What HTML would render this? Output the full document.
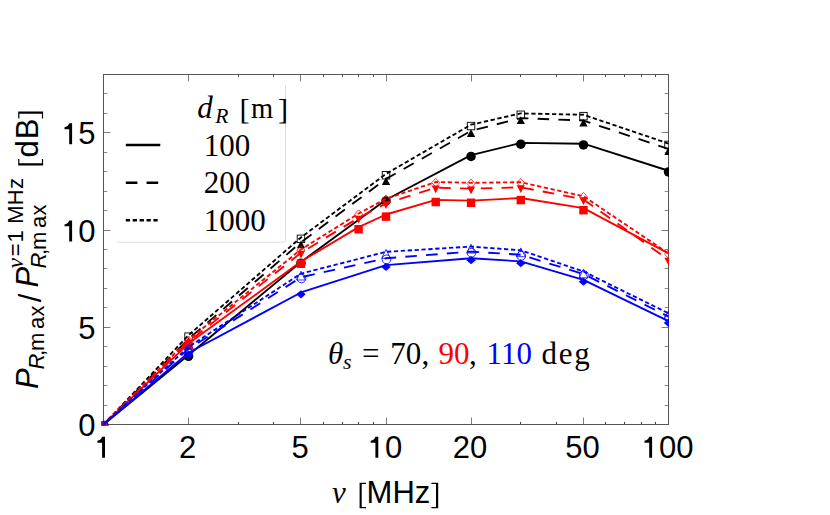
<!DOCTYPE html>
<html><head><meta charset="utf-8"><style>
html,body{margin:0;padding:0;background:#fff}
svg{display:block}
text{font-family:"Liberation Sans",sans-serif;fill:#000}
.tl{font-size:31px}
.se{font-family:"Liberation Serif",serif}
.mj{stroke:#7a7a7a;stroke-width:1;fill:none}
.mn{stroke:#888;stroke-width:1;fill:none}
.mx{stroke:#484848;stroke-width:1;fill:none}
</style></head><body>
<svg width="830" height="515" viewBox="0 0 830 515">
<defs><clipPath id="clip"><rect x="101.4" y="73" width="567.6" height="352.6"/></clipPath></defs>
<rect x="0" y="0" width="830" height="515" fill="#fff"/>
<path d="M103.50 424.5v-6.9M103.50 74.5v6.9" class="mj"/>
<path d="M188.50 424.5v-6.9M188.50 74.5v6.9" class="mj"/>
<path d="M300.50 424.5v-6.9M300.50 74.5v6.9" class="mj"/>
<path d="M386.50 424.5v-6.9M386.50 74.5v6.9" class="mj"/>
<path d="M471.50 424.5v-6.9M471.50 74.5v6.9" class="mj"/>
<path d="M583.50 424.5v-6.9M583.50 74.5v6.9" class="mj"/>
<path d="M668.50 424.5v-6.9M668.50 74.5v6.9" class="mj"/>
<path d="M238.50 424.5v-2.6M238.50 74.5v2.6" class="mx"/>
<path d="M273.50 424.5v-2.6M273.50 74.5v2.6" class="mx"/>
<path d="M323.50 424.5v-2.6M323.50 74.5v2.6" class="mx"/>
<path d="M342.50 424.5v-2.6M342.50 74.5v2.6" class="mx"/>
<path d="M358.50 424.5v-2.6M358.50 74.5v2.6" class="mx"/>
<path d="M373.50 424.5v-2.6M373.50 74.5v2.6" class="mx"/>
<path d="M520.50 424.5v-2.6M520.50 74.5v2.6" class="mx"/>
<path d="M556.50 424.5v-2.6M556.50 74.5v2.6" class="mx"/>
<path d="M605.50 424.5v-2.6M605.50 74.5v2.6" class="mx"/>
<path d="M624.50 424.5v-2.6M624.50 74.5v2.6" class="mx"/>
<path d="M641.50 424.5v-2.6M641.50 74.5v2.6" class="mx"/>
<path d="M655.50 424.5v-2.6M655.50 74.5v2.6" class="mx"/>
<path d="M103.5 424.50h6.9M668.5 424.50h-6.9" class="mj"/>
<path d="M103.5 405.50h3.8M668.5 405.50h-3.8" class="mn"/>
<path d="M103.5 385.50h3.8M668.5 385.50h-3.8" class="mn"/>
<path d="M103.5 366.50h3.8M668.5 366.50h-3.8" class="mn"/>
<path d="M103.5 346.50h3.8M668.5 346.50h-3.8" class="mn"/>
<path d="M103.5 327.50h6.9M668.5 327.50h-6.9" class="mj"/>
<path d="M103.5 307.50h3.8M668.5 307.50h-3.8" class="mn"/>
<path d="M103.5 288.50h3.8M668.5 288.50h-3.8" class="mn"/>
<path d="M103.5 268.50h3.8M668.5 268.50h-3.8" class="mn"/>
<path d="M103.5 249.50h3.8M668.5 249.50h-3.8" class="mn"/>
<path d="M103.5 230.50h6.9M668.5 230.50h-6.9" class="mj"/>
<path d="M103.5 210.50h3.8M668.5 210.50h-3.8" class="mn"/>
<path d="M103.5 191.50h3.8M668.5 191.50h-3.8" class="mn"/>
<path d="M103.5 171.50h3.8M668.5 171.50h-3.8" class="mn"/>
<path d="M103.5 152.50h3.8M668.5 152.50h-3.8" class="mn"/>
<path d="M103.5 132.50h6.9M668.5 132.50h-6.9" class="mj"/>
<path d="M103.5 113.50h3.8M668.5 113.50h-3.8" class="mn"/>
<path d="M103.5 93.50h3.8M668.5 93.50h-3.8" class="mn"/>
<path d="M103.5 74.50h3.8M668.5 74.50h-3.8" class="mn"/>
<rect x="103.5" y="74.5" width="565.0" height="350.0" fill="none" stroke="#555" stroke-width="1"/>
<g clip-path="url(#clip)">
<polyline points="103.50,424.50 188.54,355.08 300.96,261.94 386.00,199.72 471.04,155.19 520.79,142.94 583.46,143.72 668.50,170.75" fill="none" stroke="#000" stroke-width="1.85" stroke-linejoin="round"/>
<circle cx="103.50" cy="425.70" r="4.75" fill="#000"/>
<circle cx="188.54" cy="356.28" r="4.75" fill="#000"/>
<circle cx="300.96" cy="263.14" r="4.75" fill="#000"/>
<circle cx="386.00" cy="200.92" r="4.75" fill="#000"/>
<circle cx="471.04" cy="156.39" r="4.75" fill="#000"/>
<circle cx="520.79" cy="144.14" r="4.75" fill="#000"/>
<circle cx="583.46" cy="144.92" r="4.75" fill="#000"/>
<circle cx="668.50" cy="171.95" r="4.75" fill="#000"/>
<polyline points="103.50,424.50 188.54,338.94 300.96,242.31 386.00,178.92 471.04,130.89 520.79,118.06 583.46,120.58 668.50,148.97" fill="none" stroke="#000" stroke-width="1.85" stroke-dasharray="11.6 9.2" stroke-linejoin="round"/>
<path d="M99.35 430.50L107.65 430.50L103.50 422.60Z" fill="#000"/>
<path d="M184.39 344.94L192.69 344.94L188.54 337.04Z" fill="#000"/>
<path d="M296.81 248.31L305.11 248.31L300.96 240.41Z" fill="#000"/>
<path d="M381.85 184.92L390.15 184.92L386.00 177.02Z" fill="#000"/>
<path d="M466.89 136.89L475.19 136.89L471.04 128.99Z" fill="#000"/>
<path d="M516.64 124.06L524.94 124.06L520.79 116.16Z" fill="#000"/>
<path d="M579.31 126.58L587.61 126.58L583.46 118.68Z" fill="#000"/>
<path d="M664.35 154.97L672.65 154.97L668.50 147.07Z" fill="#000"/>
<polyline points="103.50,424.50 188.54,335.25 300.96,237.44 386.00,173.86 471.04,124.67 520.79,113.39 583.46,114.75 668.50,143.53" fill="none" stroke="#000" stroke-width="1.85" stroke-dasharray="4.3 2.6" stroke-linejoin="round"/>
<rect x="99.75" y="422.15" width="7.5" height="7.5" fill="none" stroke="#000" stroke-width="0.9"/>
<rect x="184.79" y="332.90" width="7.5" height="7.5" fill="none" stroke="#000" stroke-width="0.9"/>
<rect x="297.21" y="235.09" width="7.5" height="7.5" fill="none" stroke="#000" stroke-width="0.9"/>
<rect x="382.25" y="171.51" width="7.5" height="7.5" fill="none" stroke="#000" stroke-width="0.9"/>
<rect x="467.29" y="122.32" width="7.5" height="7.5" fill="none" stroke="#000" stroke-width="0.9"/>
<rect x="517.04" y="111.04" width="7.5" height="7.5" fill="none" stroke="#000" stroke-width="0.9"/>
<rect x="579.71" y="112.40" width="7.5" height="7.5" fill="none" stroke="#000" stroke-width="0.9"/>
<rect x="664.75" y="141.18" width="7.5" height="7.5" fill="none" stroke="#000" stroke-width="0.9"/>
<polyline points="103.50,424.50 188.54,343.61 300.96,261.56 358.62,227.14 386.00,214.50 435.75,199.92 471.04,200.69 520.79,197.97 583.46,208.08 668.50,253.39" fill="none" stroke="#f00" stroke-width="1.85" stroke-linejoin="round"/>
<rect x="99.30" y="422.35" width="8.4" height="8.5" fill="#f00"/>
<rect x="184.34" y="341.46" width="8.4" height="8.5" fill="#f00"/>
<rect x="296.76" y="259.41" width="8.4" height="8.5" fill="#f00"/>
<rect x="354.42" y="224.99" width="8.4" height="8.5" fill="#f00"/>
<rect x="381.80" y="212.35" width="8.4" height="8.5" fill="#f00"/>
<rect x="431.55" y="197.77" width="8.4" height="8.5" fill="#f00"/>
<rect x="466.84" y="198.54" width="8.4" height="8.5" fill="#f00"/>
<rect x="516.59" y="195.82" width="8.4" height="8.5" fill="#f00"/>
<rect x="579.26" y="205.93" width="8.4" height="8.5" fill="#f00"/>
<polyline points="103.50,424.50 188.54,341.86 300.96,252.81 358.62,217.81 386.00,203.42 435.75,187.67 471.04,188.64 520.79,187.28 583.46,199.33 668.50,259.81" fill="none" stroke="#f00" stroke-width="1.85" stroke-dasharray="11.6 9.2" stroke-linejoin="round"/>
<path d="M99.40 422.40L107.60 422.40L103.50 430.20Z" fill="#f00"/>
<path d="M184.44 339.76L192.64 339.76L188.54 347.56Z" fill="#f00"/>
<path d="M296.86 250.71L305.06 250.71L300.96 258.51Z" fill="#f00"/>
<path d="M354.52 215.71L362.72 215.71L358.62 223.51Z" fill="#f00"/>
<path d="M381.90 201.32L390.10 201.32L386.00 209.12Z" fill="#f00"/>
<path d="M431.65 185.57L439.85 185.57L435.75 193.37Z" fill="#f00"/>
<path d="M466.94 186.54L475.14 186.54L471.04 194.34Z" fill="#f00"/>
<path d="M516.69 185.18L524.89 185.18L520.79 192.98Z" fill="#f00"/>
<path d="M579.36 197.23L587.56 197.23L583.46 205.03Z" fill="#f00"/>
<path d="M664.40 257.71L672.60 257.71L668.50 265.51Z" fill="#f00"/>
<polyline points="103.50,424.50 188.54,339.72 300.96,249.50 358.62,213.53 386.00,198.75 435.75,182.03 471.04,182.81 520.79,182.22 583.46,196.22 668.50,253.39" fill="none" stroke="#f00" stroke-width="1.85" stroke-dasharray="4.3 2.6" stroke-linejoin="round"/>
<path d="M99.50 425.20L103.50 420.80L107.50 425.20L103.50 429.60Z" fill="none" stroke="#f00" stroke-width="0.8"/>
<path d="M184.54 340.42L188.54 336.02L192.54 340.42L188.54 344.82Z" fill="none" stroke="#f00" stroke-width="0.8"/>
<path d="M296.96 250.20L300.96 245.80L304.96 250.20L300.96 254.60Z" fill="none" stroke="#f00" stroke-width="0.8"/>
<path d="M354.62 214.23L358.62 209.83L362.62 214.23L358.62 218.63Z" fill="none" stroke="#f00" stroke-width="0.8"/>
<path d="M382.00 199.45L386.00 195.05L390.00 199.45L386.00 203.85Z" fill="none" stroke="#f00" stroke-width="0.8"/>
<path d="M431.75 182.73L435.75 178.33L439.75 182.73L435.75 187.13Z" fill="none" stroke="#f00" stroke-width="0.8"/>
<path d="M467.04 183.51L471.04 179.11L475.04 183.51L471.04 187.91Z" fill="none" stroke="#f00" stroke-width="0.8"/>
<path d="M516.79 182.92L520.79 178.52L524.79 182.92L520.79 187.32Z" fill="none" stroke="#f00" stroke-width="0.8"/>
<path d="M579.46 196.92L583.46 192.52L587.46 196.92L583.46 201.32Z" fill="none" stroke="#f00" stroke-width="0.8"/>
<path d="M664.50 254.09L668.50 249.69L672.50 254.09L668.50 258.49Z" fill="none" stroke="#f00" stroke-width="0.8"/>
<polyline points="103.50,424.50 188.54,352.75 300.96,292.47 386.00,265.06 471.04,258.25 520.79,261.36 583.46,279.83 668.50,321.06" fill="none" stroke="#00f" stroke-width="1.85" stroke-linejoin="round"/>
<path d="M183.84 354.65L188.54 350.55L193.24 354.65L188.54 358.75Z" fill="#00f"/>
<path d="M296.26 294.37L300.96 290.27L305.66 294.37L300.96 298.47Z" fill="#00f"/>
<path d="M381.30 266.96L386.00 262.86L390.70 266.96L386.00 271.06Z" fill="#00f"/>
<path d="M466.34 260.15L471.04 256.05L475.74 260.15L471.04 264.25Z" fill="#00f"/>
<path d="M516.09 263.26L520.79 259.16L525.49 263.26L520.79 267.36Z" fill="#00f"/>
<path d="M578.76 281.73L583.46 277.63L588.16 281.73L583.46 285.83Z" fill="#00f"/>
<path d="M663.80 322.96L668.50 318.86L673.20 322.96L668.50 327.06Z" fill="#00f"/>
<polyline points="103.50,424.50 188.54,348.86 300.96,277.31 386.00,258.25 471.04,251.64 520.79,254.75 583.46,274.00 668.50,316.58" fill="none" stroke="#00f" stroke-width="1.85" stroke-dasharray="11.6 9.2" stroke-linejoin="round"/>
<circle cx="104.00" cy="425.60" r="4.4" fill="none" stroke="#00f" stroke-width="0.85"/>
<circle cx="189.04" cy="349.96" r="4.4" fill="none" stroke="#00f" stroke-width="0.85"/>
<circle cx="301.46" cy="278.41" r="4.4" fill="none" stroke="#00f" stroke-width="0.85"/>
<circle cx="386.50" cy="259.35" r="4.4" fill="none" stroke="#00f" stroke-width="0.85"/>
<circle cx="471.54" cy="252.74" r="4.4" fill="none" stroke="#00f" stroke-width="0.85"/>
<circle cx="521.29" cy="255.85" r="4.4" fill="none" stroke="#00f" stroke-width="0.85"/>
<circle cx="583.96" cy="275.10" r="4.4" fill="none" stroke="#00f" stroke-width="0.85"/>
<circle cx="669.00" cy="317.68" r="4.4" fill="none" stroke="#00f" stroke-width="0.85"/>
<polyline points="103.50,424.50 188.54,346.92 300.96,273.61 386.00,251.83 471.04,246.58 520.79,250.28 583.46,271.47 668.50,313.28" fill="none" stroke="#00f" stroke-width="1.85" stroke-dasharray="4.3 2.6" stroke-linejoin="round"/>
<path d="M99.10 430.90L107.90 430.90L103.50 422.10Z" fill="none" stroke="#00f" stroke-width="0.8"/>
<path d="M184.14 353.32L192.94 353.32L188.54 344.52Z" fill="none" stroke="#00f" stroke-width="0.8"/>
<path d="M296.56 280.01L305.36 280.01L300.96 271.21Z" fill="none" stroke="#00f" stroke-width="0.8"/>
<path d="M381.60 258.23L390.40 258.23L386.00 249.43Z" fill="none" stroke="#00f" stroke-width="0.8"/>
<path d="M466.64 252.98L475.44 252.98L471.04 244.18Z" fill="none" stroke="#00f" stroke-width="0.8"/>
<path d="M516.39 256.68L525.19 256.68L520.79 247.88Z" fill="none" stroke="#00f" stroke-width="0.8"/>
<path d="M579.06 277.87L587.86 277.87L583.46 269.07Z" fill="none" stroke="#00f" stroke-width="0.8"/>
<path d="M664.10 319.68L672.90 319.68L668.50 310.88Z" fill="none" stroke="#00f" stroke-width="0.8"/>
</g>
<!-- legend -->
<rect x="116" y="85.5" width="169.5" height="156.7" fill="#fff"/><path d="M116.5 242.2H285.5V85.5" fill="none" stroke="#dedede" stroke-width="1"/>
<path d="M125.8 145H160.3" stroke="#000" stroke-width="2.5"/>
<path d="M125.8 182.7H160.3" stroke="#000" stroke-width="2.4" stroke-dasharray="11.6 9.2"/>
<path d="M125.8 220.2H160.3" stroke="#000" stroke-width="2.4" stroke-dasharray="4.3 2.6"/>
<text class="se" font-size="31" y="118.2"><tspan x="197.2" font-style="italic">d</tspan><tspan x="215.3" dy="4.3" font-size="21.5" font-style="italic">R</tspan><tspan x="239.4" dy="-3.5" font-size="30.3">[</tspan><tspan x="250.9" dy="-0.8" font-size="28.5">m</tspan><tspan x="277.9" dy="0.8" font-size="30.3">]</tspan></text>
<text class="se" font-size="31" x="203.8" y="155.8">100</text>
<text class="se" font-size="31" x="203.8" y="193.4">200</text>
<text class="se" font-size="31" x="203.8" y="230.8">1000</text>
<!-- annotation -->
<text class="se" font-size="31" y="364.3"><tspan x="328" font-style="italic">θ</tspan><tspan x="343" dy="4.7" font-size="22" font-style="italic">s</tspan><tspan x="362" dy="-4.7">=</tspan><tspan x="390.2">70</tspan><tspan x="421.5">,</tspan><tspan x="438.5" fill="#f00">90</tspan><tspan x="469">,</tspan><tspan x="486.6" fill="#00f">110</tspan><tspan x="541.5" letter-spacing="1.7">deg</tspan></text>
<path d="M105.00 457.80h-2.9v-15.1h-4.7v-1.9q3.5-0.5 4.8-4.0h2.8z" fill="#000"/>
<text x="187.5" y="457.8" text-anchor="middle" class="tl">2</text>
<text x="300.0" y="457.8" text-anchor="middle" class="tl">5</text>
<path d="M378.30 457.80h-2.9v-15.1h-4.7v-1.9q3.5-0.5 4.8-4.0h2.8z" fill="#000"/>
<text x="402.2" y="457.8" text-anchor="end" class="tl">0</text>
<text x="470.0" y="457.8" text-anchor="middle" class="tl">20</text>
<text x="582.5" y="457.8" text-anchor="middle" class="tl">50</text>
<path d="M652.10 457.80h-2.9v-15.1h-4.7v-1.9q3.5-0.5 4.8-4.0h2.8z" fill="#000"/>
<text x="693.4" y="457.8" text-anchor="end" class="tl">00</text>
<text x="95.5" y="435.9" text-anchor="end" class="tl">0</text>
<text x="95.5" y="338.7" text-anchor="end" class="tl">5</text>
<path d="M72.10 241.46h-2.9v-15.1h-4.7v-1.9q3.5-0.5 4.8-4.0h2.8z" fill="#000"/>
<text x="95.5" y="241.5" text-anchor="end" class="tl">0</text>
<path d="M72.10 144.23h-2.9v-15.1h-4.7v-1.9q3.5-0.5 4.8-4.0h2.8z" fill="#000"/>
<text x="95.5" y="144.2" text-anchor="end" class="tl">5</text>
<!-- x label -->
<text y="503"><tspan x="332" class="se" font-size="31" font-style="italic">ν</tspan><tspan x="366.6" font-size="31">MHz</tspan></text>
<path d="M359.6 482.8h6.4v1.2h-4.30v23.00h4.30v1.2h-6.4z" fill="#000"/><path d="M438.2 482.8h-6.8v1.2h4.60v23.00h-4.60v1.2h6.8z" fill="#000"/>
<!-- y label -->
<g transform="translate(38.2 386.2) rotate(-90)">
<text font-size="31" font-style="italic" x="-2.9" y="0">P</text>
<text font-size="22" y="5.7"><tspan x="16.6" font-style="italic">R</tspan><tspan x="30.1">,</tspan><tspan x="35.3">m</tspan><tspan x="57.3">a</tspan><tspan x="69.6">x</tspan></text>
<text font-size="31" x="84" y="3">/</text>
<text font-size="31" font-style="italic" x="98.7" y="0">P</text>
<text font-size="22" y="7.6"><tspan x="117.6" font-style="italic">R</tspan><tspan x="131.1">,</tspan><tspan x="136.3">m</tspan><tspan x="158.3">a</tspan><tspan x="170.6">x</tspan></text>
<text font-size="22" y="-15.3" letter-spacing="0.2"><tspan x="118" class="se" font-style="italic" font-size="23">ν</tspan><tspan x="129.9">=</tspan><tspan x="143.8">1 MHz</tspan></text>
<text font-size="31" y="0"><tspan x="228.6" letter-spacing="1.2">dB</tspan></text>
<path d="M220.8 -20.0h6.4v1.2h-4.30v22.50h4.30v1.2h-6.4z" fill="#000"/><path d="M274.6 -20.0h-6.8v1.2h4.60v22.50h-4.60v1.2h6.8z" fill="#000"/>
</g>
</svg>
</body></html>
